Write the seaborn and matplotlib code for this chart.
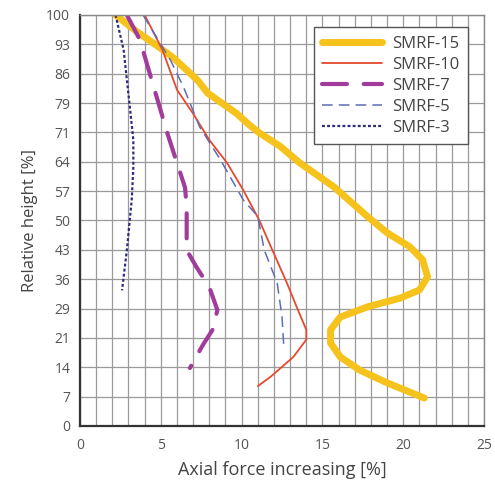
import numpy as np
import pandas as pd
import matplotlib.pyplot as plt
import seaborn as sns
from matplotlib.ticker import MultipleLocator, FixedLocator

# Datos (x = aumento de fuerza axial [%], y = altura relativa [%])
smrf15_x = [2.2, 3.5, 4.95, 5.8, 6.6, 7.3, 7.9, 8.8, 9.7, 10.4, 11.1, 12.4, 13.6, 15.7, 17.8, 19.0, 20.4, 21.2, 21.5, 21.0, 19.8, 17.8, 16.1, 15.5, 15.5, 16.1, 17.3, 19.0, 21.3]
smrf15_y = [100, 96, 92, 89.5, 86.6, 84, 81, 78.5, 76, 73.5, 71.3, 68, 64, 58.2, 50.9, 47, 43.6, 40.4, 36.3, 33.1, 31.1, 29, 26.5, 23.4, 20.2, 16.8, 13.6, 10.5, 6.8]

smrf10_x = [4.0, 5.1, 6.0, 7.0, 8.0, 9.1, 10.1, 11.1, 11.9, 12.8, 13.4, 14.0, 14.0, 13.2, 11.8, 11.0]
smrf10_y = [100, 91.5, 81.8, 76, 69.6, 64, 57.4, 50, 42.8, 34.8, 29, 23.4, 21, 16.8, 12, 9.7]

smrf7_x = [2.9, 3.7, 4.8, 5.4, 6.0, 6.5, 6.6, 6.6, 7.2, 8.0, 8.5, 8.2, 7.6, 6.8]
smrf7_y = [100, 94, 79.3, 71.3, 64, 58, 53, 42.8, 38.7, 33.8, 28.2, 23.4, 19.7, 14.1]

smrf5_x = [3.9, 5.6, 6.4, 7.4, 8.7, 10.1, 11.0, 11.4, 12.2, 12.5, 12.6]
smrf5_y = [100, 89, 82.5, 72.8, 64.7, 55, 51, 42.8, 34.8, 26.5, 19.7]

smrf3_x = [2.2, 2.7, 3.1, 3.3, 3.3, 3.2, 2.9, 2.6]
smrf3_y = [100, 91.5, 77, 69.6, 63, 55, 42.8, 33]

y_labels = ["0", "7", "14", "21", "29", "36", "43", "50", "57", "64", "71", "79", "86", "93", "100"]

series = [
    ("SMRF-15", smrf15_x, smrf15_y, "#F6C21C", 5.0, "solid"),
    ("SMRF-10", smrf10_x, smrf10_y, "#E5492E", 1.3, "solid"),
    ("SMRF-7", smrf7_x, smrf7_y, "#A23C9C", 3.0, (0, (6, 4))),
    ("SMRF-5", smrf5_x, smrf5_y, "#5C6DB3", 1.1, (0, (7, 4))),
    ("SMRF-3", smrf3_x, smrf3_y, "#2E2B7E", 1.6, (0, (1.3, 1.0))),
]

sns.set_style("white")
plt.rcParams['font.family'] = ['Open Sans', 'DejaVu Sans']

fig = plt.figure(figsize=(4.95, 4.87), dpi=100)
ax = fig.add_axes([0.1616, 0.1253, 0.8164, 0.8439])

for name, xs, ys, color, lw, ls in series:
    df = pd.DataFrame({"x": xs, "y": ys})
    sns.lineplot(data=df, x="x", y="y", sort=False, estimator=None, ax=ax,
                 color=color, linewidth=lw, linestyle=ls, label=name,
                 solid_capstyle="round", solid_joinstyle="round",
                 dash_capstyle="round" if lw > 2 else "butt")

ax.set_xlim(0, 25)
ax.set_ylim(0, 100)
ax.xaxis.set_major_locator(MultipleLocator(5))
ax.xaxis.set_minor_locator(MultipleLocator(1))
y_pos = np.arange(15) * 100 / 14
ax.yaxis.set_major_locator(FixedLocator(y_pos))
ax.set_yticklabels(y_labels)

ax.grid(True, which="both", axis="x", color="#9a9a9a", linewidth=0.9)
ax.grid(True, which="major", axis="y", color="#9a9a9a", linewidth=0.9)
ax.set_axisbelow(True)

ax.tick_params(axis="both", which="both", direction="inout", colors="#444444",
               labelsize=10, labelcolor="#555555")
ax.tick_params(axis="both", which="major", length=7, width=1)
ax.tick_params(axis="x", which="minor", length=7, width=1)
ax.tick_params(axis="x", pad=5)

for side in ["left", "bottom"]:
    ax.spines[side].set_color("#333333")
    ax.spines[side].set_linewidth(1.6)
for side in ["top", "right"]:
    ax.spines[side].set_color("#888888")
    ax.spines[side].set_linewidth(1.0)

ax.set_xlabel("Axial force increasing [%]", fontsize=13, color="#444444", labelpad=6)
ax.set_ylabel("Relative height [%]", fontsize=12, color="#444444", labelpad=6)

leg = ax.legend(loc="upper right", bbox_to_anchor=(0.98, 0.99), fontsize=12,
                frameon=True, fancybox=False, handlelength=3.6, borderpad=0.5,
                labelspacing=0.3, handletextpad=0.6)
leg.get_frame().set_edgecolor("#555555")
leg.get_frame().set_linewidth(1.0)
leg.get_frame().set_alpha(1)
for t in leg.get_texts():
    t.set_color("#444444")

fig.savefig("out.png", dpi=100, facecolor="white")
